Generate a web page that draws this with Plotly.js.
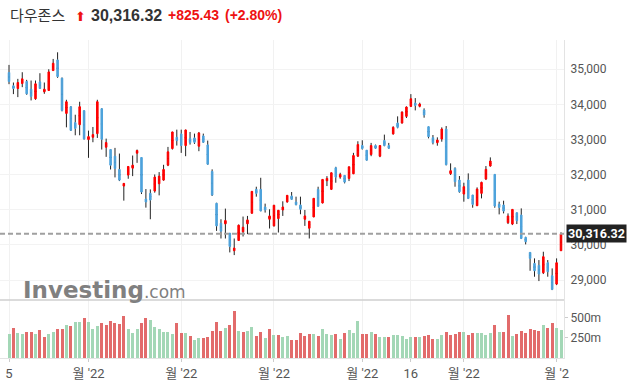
<!DOCTYPE html>
<html>
<head>
<meta charset="utf-8">
<script src="https://cdn.plot.ly/plotly-3.0.1.min.js"></script>
<style>html,body{margin:0;padding:0;background:#fff;}#chart{width:631px;height:386px;}</style>
</head>
<body>
<div id="chart"></div>
<script>
// Trading days (Dow Jones daily, Apr 5 – Oct 4 2022)
const dates = [
'2022-04-05','2022-04-06','2022-04-07','2022-04-08','2022-04-11','2022-04-12','2022-04-13','2022-04-14','2022-04-18','2022-04-19',
'2022-04-20','2022-04-21','2022-04-22','2022-04-25','2022-04-26','2022-04-27','2022-04-28','2022-04-29','2022-05-02','2022-05-03',
'2022-05-04','2022-05-05','2022-05-06','2022-05-09','2022-05-10','2022-05-11','2022-05-12','2022-05-13','2022-05-16','2022-05-17',
'2022-05-18','2022-05-19','2022-05-20','2022-05-23','2022-05-24','2022-05-25','2022-05-26','2022-05-27','2022-05-31','2022-06-01',
'2022-06-02','2022-06-03','2022-06-06','2022-06-07','2022-06-08','2022-06-09','2022-06-10','2022-06-13','2022-06-14','2022-06-15',
'2022-06-16','2022-06-17','2022-06-21','2022-06-22','2022-06-23','2022-06-24','2022-06-27','2022-06-28','2022-06-29','2022-06-30',
'2022-07-01','2022-07-05','2022-07-06','2022-07-07','2022-07-08','2022-07-11','2022-07-12','2022-07-13','2022-07-14','2022-07-15',
'2022-07-18','2022-07-19','2022-07-20','2022-07-21','2022-07-22','2022-07-25','2022-07-26','2022-07-27','2022-07-28','2022-07-29',
'2022-08-01','2022-08-02','2022-08-03','2022-08-04','2022-08-05','2022-08-08','2022-08-09','2022-08-10','2022-08-11','2022-08-12',
'2022-08-15','2022-08-16','2022-08-17','2022-08-18','2022-08-19','2022-08-22','2022-08-23','2022-08-24','2022-08-25','2022-08-26',
'2022-08-29','2022-08-30','2022-08-31','2022-09-01','2022-09-02','2022-09-06','2022-09-07','2022-09-08','2022-09-09','2022-09-12',
'2022-09-13','2022-09-14','2022-09-15','2022-09-16','2022-09-19','2022-09-20','2022-09-21','2022-09-22','2022-09-23','2022-09-26',
'2022-09-27','2022-09-28','2022-09-29','2022-09-30','2022-10-03','2022-10-04'];

const opens = [
34905,34527,34451,34593,34650,34432,34159,34640,34357,34395,
34961,35263,34744,33743,33932,33479,33422,33819,32997,33063,
33167,33875,32780,32714,32525,32147,31675,31987,32185,32610,
32487,31307,31467,31533,31741,31845,32270,32742,33063,33158,
32827,33025,33044,32808,33101,32846,32091,31184,30618,30599,
30334,29834,30127,30372,30599,30901,31581,31581,31080,30731,
30542,30750,30995,31222,31392,31222,31137,30731,30476,30797,
31581,31194,31826,31581,32195,31930,31977,31892,32024,32525,
32827,32695,32572,32827,32525,32969,32827,33158,33469,33469,
33658,33942,34036,33943,33839,33364,33051,32909,33013,33298,
32026,32178,31846,31448,31846,31419,31116,31467,31875,32245,
32007,31163,31135,30632,30594,30916,30850,30214,29787,29474,
29417,29208,29493,29123,28886,29835];

const highs = [
35122,34621,34725,34914,34697,34678,34678,34886,34621,34999,
35292,35481,34763,34130,33950,33705,34074,33830,33252,33356,
34130,33890,33025,32720,32761,32600,31760,32240,32544,32714,
32500,31590,31580,32005,32072,32280,32789,33222,33280,33280,
33280,33214,33167,33214,33167,32969,32150,31200,30731,31033,
30340,30183,30580,30807,30825,31530,31656,31911,31175,31014,
31140,30990,31241,31420,31505,31373,31373,30995,30680,31330,
31656,31870,31958,32060,32223,32053,31990,32230,32620,32950,
32978,32700,32903,32856,32835,33139,32903,33375,33658,33800,
33942,34291,34178,34047,33886,33370,33127,33061,33345,33383,
32321,32207,31960,31770,32036,31425,31638,31799,32245,32491,
32010,31230,31258,30897,31015,30920,31040,30233,29790,29617,
29569,29806,29569,29332,29617,30360];

const lows = [
34574,34291,34206,34489,34272,34111,34130,34442,34300,34385,
34952,34754,33800,33346,33243,33120,33120,32997,32478,32922,
33044,32714,32506,32147,31921,31817,31260,31883,31958,32336,
31448,31061,30731,31486,31410,31826,32242,32714,32827,32619,
32525,32855,32874,32667,32903,32280,31392,30400,30183,30183,
29787,29711,30117,30240,30306,30890,31373,30958,30920,30467,
30523,30353,30825,31203,31279,31127,30873,30542,30183,30788,
31090,31180,31675,31562,31770,31883,31751,31817,32015,32506,
32714,32400,32525,32733,32497,32808,32733,33139,33318,33450,
33611,33923,33828,33915,33620,33032,32861,32823,32937,32264,
31989,31656,31486,31230,31305,31059,31106,31324,31846,32226,
31059,30869,30897,30594,30565,30594,30167,30015,29265,29095,
28971,29171,29095,28715,28857,29835];

const closes = [
34650,34451,34621,34725,34300,34225,34584,34451,34432,34923,
35169,34791,33828,34074,33261,33318,33932,33016,33082,33139,
34074,33007,32912,32270,32175,31845,31751,32232,32270,32685,
31505,31222,31279,31930,31958,32147,32648,33214,32969,32827,
33271,32912,32921,33186,32922,32298,31420,30542,30391,30693,
29957,29910,30561,30504,30712,31524,31468,30967,30995,30825,
31128,30986,31080,31411,31297,31146,31014,30825,30674,31326,
31099,31864,31892,32053,31930,32006,31789,32223,32544,32856,
32742,32412,32827,32752,32827,32827,32752,33347,33347,33781,
33923,34159,33970,34009,33696,33080,32909,32985,33298,32283,
32112,31799,31514,31657,31324,31154,31590,31780,32150,32387,
31106,31068,30964,30822,31011,30689,30186,30091,29617,29265,
29171,29664,29237,28734,29493,30316.32];

// Volume in millions, and bar colour codes (g = green, r = red)
const volumes = [
303,377,316,303,328,328,303,353,267,303,328,365,365,414,402,451,451,500,451,365,
402,439,414,463,439,426,525,365,316,365,439,500,476,390,365,328,328,303,439,316,
316,279,
230,254,254,267,340,451,340,377,414,586,340,328,340,390,279,328,254,365,291,291,
267,279,230,230,316,279,303,303,279,365,303,291,303,242,316,353,316,463,303,303,
328,
303,267,267,267,291,291,279,242,267,267,267,279,291,242,242,291,328,291,303,328,
328,291,316,316,316,291,316,414,328,328,537,279,303,340,316,365,353,340,414,377,
439,377,353];
const volColors = [
'g','r','g','g','r','r','g','r','r','g','g','r','r','g','r','g','g','r','g','g',
'g','r','r','r','r','r','r','g','g','g','r','r','g','g','g','g','g','g','r','r',
'g','r',
'g','g','r','r','r','r','r','g','r','r','g','r','g','g','r','r','g','r','g','r',
'g','g','r','r','r','r','r','g','r','g','g','g','r','g','r','g','g','g','r','r',
'g',
'r','g','g','r','g','g','g','g','g','r','g','r','r','r','g','g','r','r','r','r',
'g','r','r','g','g','g','g','r','g','r','r','g','r','r','r','r','r','r','g','r',
'r','g','g'];

const tickDates = ['2022-04-05','2022-05-02','2022-06-01','2022-07-01','2022-08-01','2022-08-16','2022-09-01','2022-10-03'];
const tickLabels = ['5',"월 '22","월 '22","월 '22","월 '22",'16',"월 '22","월 '2"];
const priceTicks = [29000,30000,31000,32000,33000,34000,35000];
const volTicks = [250,500];
const volTickLabels = ['250m','500m'];

const lastClose = closes[closes.length-1];
const header = {name:'다우존스', price:'30,316.32', change:'+825.43', pct:'(+2.80%)'};

const UP = '#ff0000', DOWN = '#4ea3dc', WICK = '#222222';
const VG = '#a3d7b6', VR = '#e26b6b';

const mid = opens.map((o,i)=>(o+closes[i])/2);
const bodyHi = opens.map((o,i)=>Math.max(o,closes[i]));
const bodyLo = opens.map((o,i)=>Math.min(o,closes[i]));

const wicks = {
  type:'candlestick', x:dates, open:mid, close:mid, high:highs, low:lows,
  increasing:{line:{color:WICK,width:1},fillcolor:WICK},
  decreasing:{line:{color:WICK,width:1},fillcolor:WICK},
  whiskerwidth:0, hoverinfo:'skip', showlegend:false, xaxis:'x', yaxis:'y'
};
const bodies = {
  type:'candlestick', x:dates, open:opens, close:closes, high:bodyHi, low:bodyLo,
  increasing:{line:{color:UP,width:1},fillcolor:UP},
  decreasing:{line:{color:DOWN,width:1},fillcolor:DOWN},
  whiskerwidth:0, hoverinfo:'skip', showlegend:false, xaxis:'x', yaxis:'y'
};
const vol = {
  type:'bar', x:dates, y:volumes, width:0.68,
  marker:{color:volColors.map(c=>c==='g'?VG:VR), line:{width:0}},
  hoverinfo:'skip', showlegend:false, xaxis:'x', yaxis:'y2'
};

const axisFont = {family:'Roboto, "Noto Sans CJK KR", sans-serif', size:12, color:'#555'};
const volDomainTop = 0.1824;

const layout = {
  width:631, height:386,
  margin:{l:0, r:67, t:40, b:28},
  paper_bgcolor:'#ffffff', plot_bgcolor:'#ffffff',
  showlegend:false, boxgap:0.5, bargap:0,
  xaxis:{
    type:'category', range:[-2.04,125.68], anchor:'y2',
    tickmode:'array', tickvals:tickDates, ticktext:tickLabels, tickangle:0,
    showgrid:true, gridcolor:'#f1f1f1', gridwidth:1,
    ticks:'outside', ticklen:3, tickcolor:'#cccccc',
    showline:true, linecolor:'#e3e3e3', linewidth:1,
    tickfont:{family:'Roboto, "Noto Sans CJK KR", sans-serif', size:13, color:'#555'},
    rangeslider:{visible:false}, fixedrange:true, zeroline:false
  },
  yaxis:{
    domain:[volDomainTop,1], side:'right', range:[28433,35831],
    tickmode:'array', tickvals:priceTicks, tickformat:',d',
    showgrid:true, gridcolor:'#f3f3f3', gridwidth:1,
    ticks:'outside', ticklen:3, tickcolor:'rgba(0,0,0,0)',
    showline:true, linecolor:'#e3e3e3', linewidth:1,
    tickfont:axisFont, zeroline:false, fixedrange:true
  },
  yaxis2:{
    domain:[0,volDomainTop], side:'right', range:[0,725],
    tickmode:'array', tickvals:volTicks, ticktext:volTickLabels,
    showgrid:false, ticks:'outside', ticklen:3, tickcolor:'#cccccc',
    showline:true, linecolor:'#e3e3e3', linewidth:1,
    tickfont:axisFont, zeroline:false, fixedrange:true
  },
  shapes:[
    {type:'line', xref:'paper', yref:'paper', x0:0, x1:1, y0:volDomainTop, y1:volDomainTop,
     line:{color:'#cfcfcf', width:1.5}},
    {type:'line', xref:'paper', yref:'y', x0:0, x1:1, y0:lastClose, y1:lastClose,
     line:{color:'#a0a0a0', width:2, dash:'5px,3px'}}
  ],
  annotations:[
    {xref:'paper', yref:'y', x:1, y:lastClose, xanchor:'left', yanchor:'middle', xshift:2,
     text:'<b>'+lastClose.toLocaleString('en-US',{minimumFractionDigits:2})+'</b>',
     showarrow:false, bgcolor:'#222222', borderpad:1,
     font:{family:'Roboto, sans-serif', size:12.5, color:'#ffffff'}},
    {xref:'paper', yref:'paper', x:0, y:1, xanchor:'left', yanchor:'middle', xshift:8, yshift:26,
     text:header.name, showarrow:false,
     font:{family:'"Noto Sans CJK KR", sans-serif', size:15, color:'#333'}},
    {xref:'paper', yref:'paper', x:0, y:1, xanchor:'left', yanchor:'middle', xshift:73, yshift:24,
     text:'⬆', showarrow:false,
     font:{family:'DejaVu Sans, sans-serif', size:13, color:'#ee1111'}},
    {xref:'paper', yref:'paper', x:0, y:1, xanchor:'left', yanchor:'middle', xshift:89, yshift:25,
     text:'<b>'+header.price+'</b>', showarrow:false,
     font:{family:'Liberation Sans, Arial, sans-serif', size:16, color:'#333'}},
    {xref:'paper', yref:'paper', x:0, y:1, xanchor:'left', yanchor:'middle', xshift:166, yshift:25,
     text:'<b>'+header.change+'</b>', showarrow:false,
     font:{family:'Liberation Sans, Arial, sans-serif', size:14, color:'#ee1111'}},
    {xref:'paper', yref:'paper', x:0, y:1, xanchor:'left', yanchor:'middle', xshift:223, yshift:25,
     text:'<b>'+header.pct+'</b>', showarrow:false,
     font:{family:'Liberation Sans, Arial, sans-serif', size:14, color:'#ee1111'}},
    {xref:'paper', yref:'paper', x:0, y:0, xanchor:'left', yanchor:'middle', xshift:21, yshift:68,
     text:"<b>Investing</b><span style='font-size:17px;font-weight:normal;'>.com</span>", showarrow:false,
     font:{family:'DejaVu Sans, sans-serif', size:23, color:'#808080'}}
  ]
};

Plotly.newPlot('chart', [wicks, bodies, vol], layout, {staticPlot:true, displayModeBar:false});
</script>
</body>
</html>
